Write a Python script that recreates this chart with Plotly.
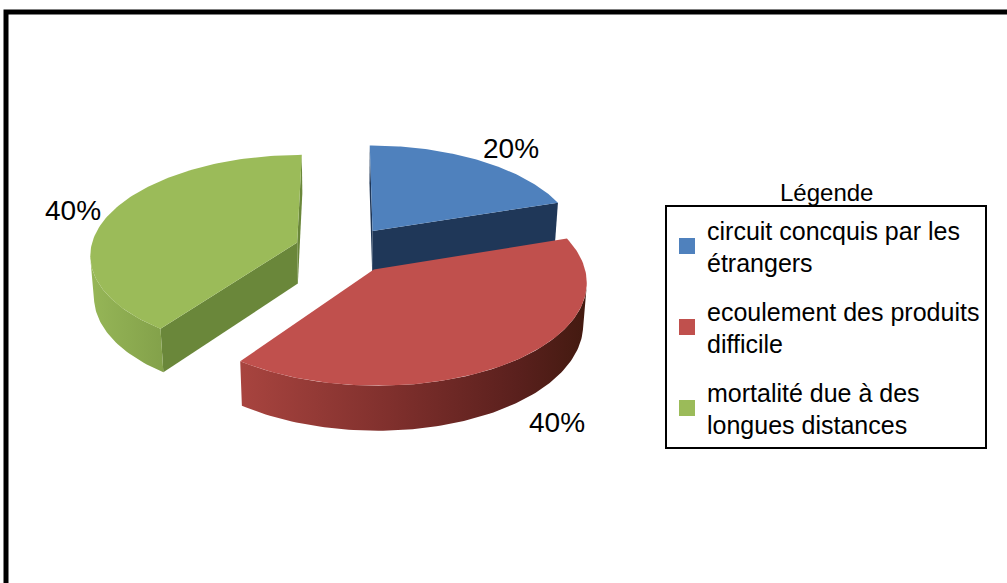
import numpy as np
import plotly.graph_objects as go

# ---- data ----
categories = [
    "circuit concquis par les étrangers",
    "ecoulement des produits difficile",
    "mortalité due à des longues distances",
]
legend_labels = [
    "circuit concquis par les<br>étrangers",
    "ecoulement des produits<br>difficile",
    "mortalité due à des<br>longues distances",
]
shares = [20, 40, 40]
value_labels = ["20%", "40%", "40%"]

# ---- styling ----
top_colors = ["#4f81bd", "#c0504d", "#9bbb59"]
cut_colors = ["#1f3758", "#6e2826", "#6a873a"]
wall_scales = [
    [[0, "#223d60"], [1, "#18304b"]],
    [[0, "#a8443f"], [0.45, "#7e2f2c"], [0.8, "#5a201d"], [1, "#431a10"]],
    [[0, "#96b657"], [1, "#83a14a"]],
]

# ---- 3D projection of the tilted, exploded pie ----
PHI = np.radians(30)      # viewing tilt
DIST = 8.0                # camera distance (in radii)
FOCAL = 1630.0
HEIGHT = 0.23             # slab thickness (in radii)
EXPLODE = 0.24
CX, CY = 344.0, 291.0
CAM = np.array([0.0, DIST * np.sin(PHI), -DIST * np.cos(PHI)])


def project(X, Y, Z):
    X, Y, Z = np.asarray(X, float), np.asarray(Y, float), np.asarray(Z, float)
    sy = Y * np.cos(PHI) + Z * np.sin(PHI)
    d = DIST + Z * np.cos(PHI) - Y * np.sin(PHI)
    return CX + X * FOCAL / d, CY - sy * FOCAL / d


def faces_visible(normal, point):
    return float(np.dot(normal, CAM - point)) > 0


fig = go.Figure()

total = float(sum(shares))
bounds = np.concatenate([[0], np.cumsum(shares)]) / total * 2 * np.pi
slices = []
for i in range(len(shares)):
    a0, a1 = bounds[i], bounds[i + 1]
    mid = 0.5 * (a0 + a1)
    ox, oz = EXPLODE * np.sin(mid), EXPLODE * np.cos(mid)
    slices.append((i, a0, a1, mid, ox, oz))

# paint back-to-front
for i, a0, a1, mid, ox, oz in sorted(slices, key=lambda s: -s[5]):
    th = np.linspace(a0, a1, 120)
    rx, rz = ox + np.sin(th), oz + np.cos(th)

    # radial cut faces
    for a, normal in (
        (a0, np.array([-np.cos(a0), 0, np.sin(a0)])),
        (a1, np.array([np.cos(a1), 0, -np.sin(a1)])),
    ):
        mpt = np.array([ox + 0.5 * np.sin(a), HEIGHT / 2, oz + 0.5 * np.cos(a)])
        if faces_visible(normal, mpt):
            X = [ox, ox + np.sin(a), ox + np.sin(a), ox, ox]
            Y = [HEIGHT, HEIGHT, 0, 0, HEIGHT]
            Z = [oz, oz + np.cos(a), oz + np.cos(a), oz, oz]
            px, py = project(X, Y, Z)
            fig.add_trace(go.Scatter(
                x=px, y=py, mode="lines", fill="toself",
                fillcolor=cut_colors[i], line=dict(width=0, color=cut_colors[i]),
                hoverinfo="skip", showlegend=False))

    # outer curved wall (front-facing part)
    vis = np.array([
        faces_visible(np.array([np.sin(t), 0, np.cos(t)]),
                      np.array([ox + np.sin(t), HEIGHT / 2, oz + np.cos(t)]))
        for t in th
    ])
    if vis.any():
        tv = th[vis]
        wx, wz = ox + np.sin(tv), oz + np.cos(tv)
        tx, ty = project(wx, np.full_like(wx, HEIGHT), wz)
        bx, by = project(wx, np.zeros_like(wx), wz)
        fig.add_trace(go.Scatter(
            x=np.concatenate([tx, bx[::-1], tx[:1]]),
            y=np.concatenate([ty, by[::-1], ty[:1]]),
            mode="lines", fill="toself",
            fillgradient=dict(type="horizontal", colorscale=wall_scales[i]),
            line=dict(width=0, color=top_colors[i]),
            hoverinfo="skip", showlegend=False))

    # top face
    X = np.concatenate([[ox], rx, [ox]])
    Z = np.concatenate([[oz], rz, [oz]])
    px, py = project(X, np.full_like(X, HEIGHT), Z)
    fig.add_trace(go.Scatter(
        x=px, y=py, mode="lines", fill="toself",
        fillcolor=top_colors[i], line=dict(width=0, color=top_colors[i]),
        hoverinfo="text", text=f"{categories[i]}: {shares[i]}%",
        showlegend=False))

    # percentage label just outside the slice rim
    lr = 1.25
    ly = 0.9 * HEIGHT if np.cos(mid) > 0 else 0.05
    lx, lyy = project(ox + lr * np.sin(mid), ly, oz + lr * np.cos(mid))
    fig.add_annotation(
        x=float(lx), y=float(lyy), text=value_labels[i], showarrow=False,
        font=dict(size=28, color="black", family="Liberation Sans"),
        xanchor="center", yanchor="middle", xshift=7)

# legend entries
for i, name in enumerate(legend_labels):
    fig.add_trace(go.Scatter(
        x=[None], y=[None], mode="markers", name=name,
        legendgroup=f"g{i}",
        marker=dict(symbol="square", size=18, color=top_colors[i]),
    ))

fig.add_annotation(
    x=826, y=192, text="Légende", showarrow=False,
    font=dict(size=24, color="black", family="Liberation Sans"),
    xanchor="center", yanchor="middle")

# outer frame (runs off the right and bottom edges)
fig.add_shape(type="rect", x0=6, y0=12, x1=1030, y1=620,
              line=dict(color="black", width=5), layer="above")

fig.update_layout(
    width=1007, height=583,
    margin=dict(l=0, r=0, t=0, b=0),
    paper_bgcolor="white", plot_bgcolor="white",
    xaxis=dict(range=[0, 1007], visible=False, fixedrange=True),
    yaxis=dict(range=[583, 0], visible=False, fixedrange=True),
    legend=dict(
        x=665 / 1007, y=1 - 205 / 583, xanchor="left", yanchor="top",
        bordercolor="black", borderwidth=2, bgcolor="white",
        font=dict(size=25, color="black", family="Liberation Sans"),
        tracegroupgap=13, entrywidth=290, entrywidthmode="pixels",
    ),
    showlegend=True,
)

fig.write_html("out.html")
